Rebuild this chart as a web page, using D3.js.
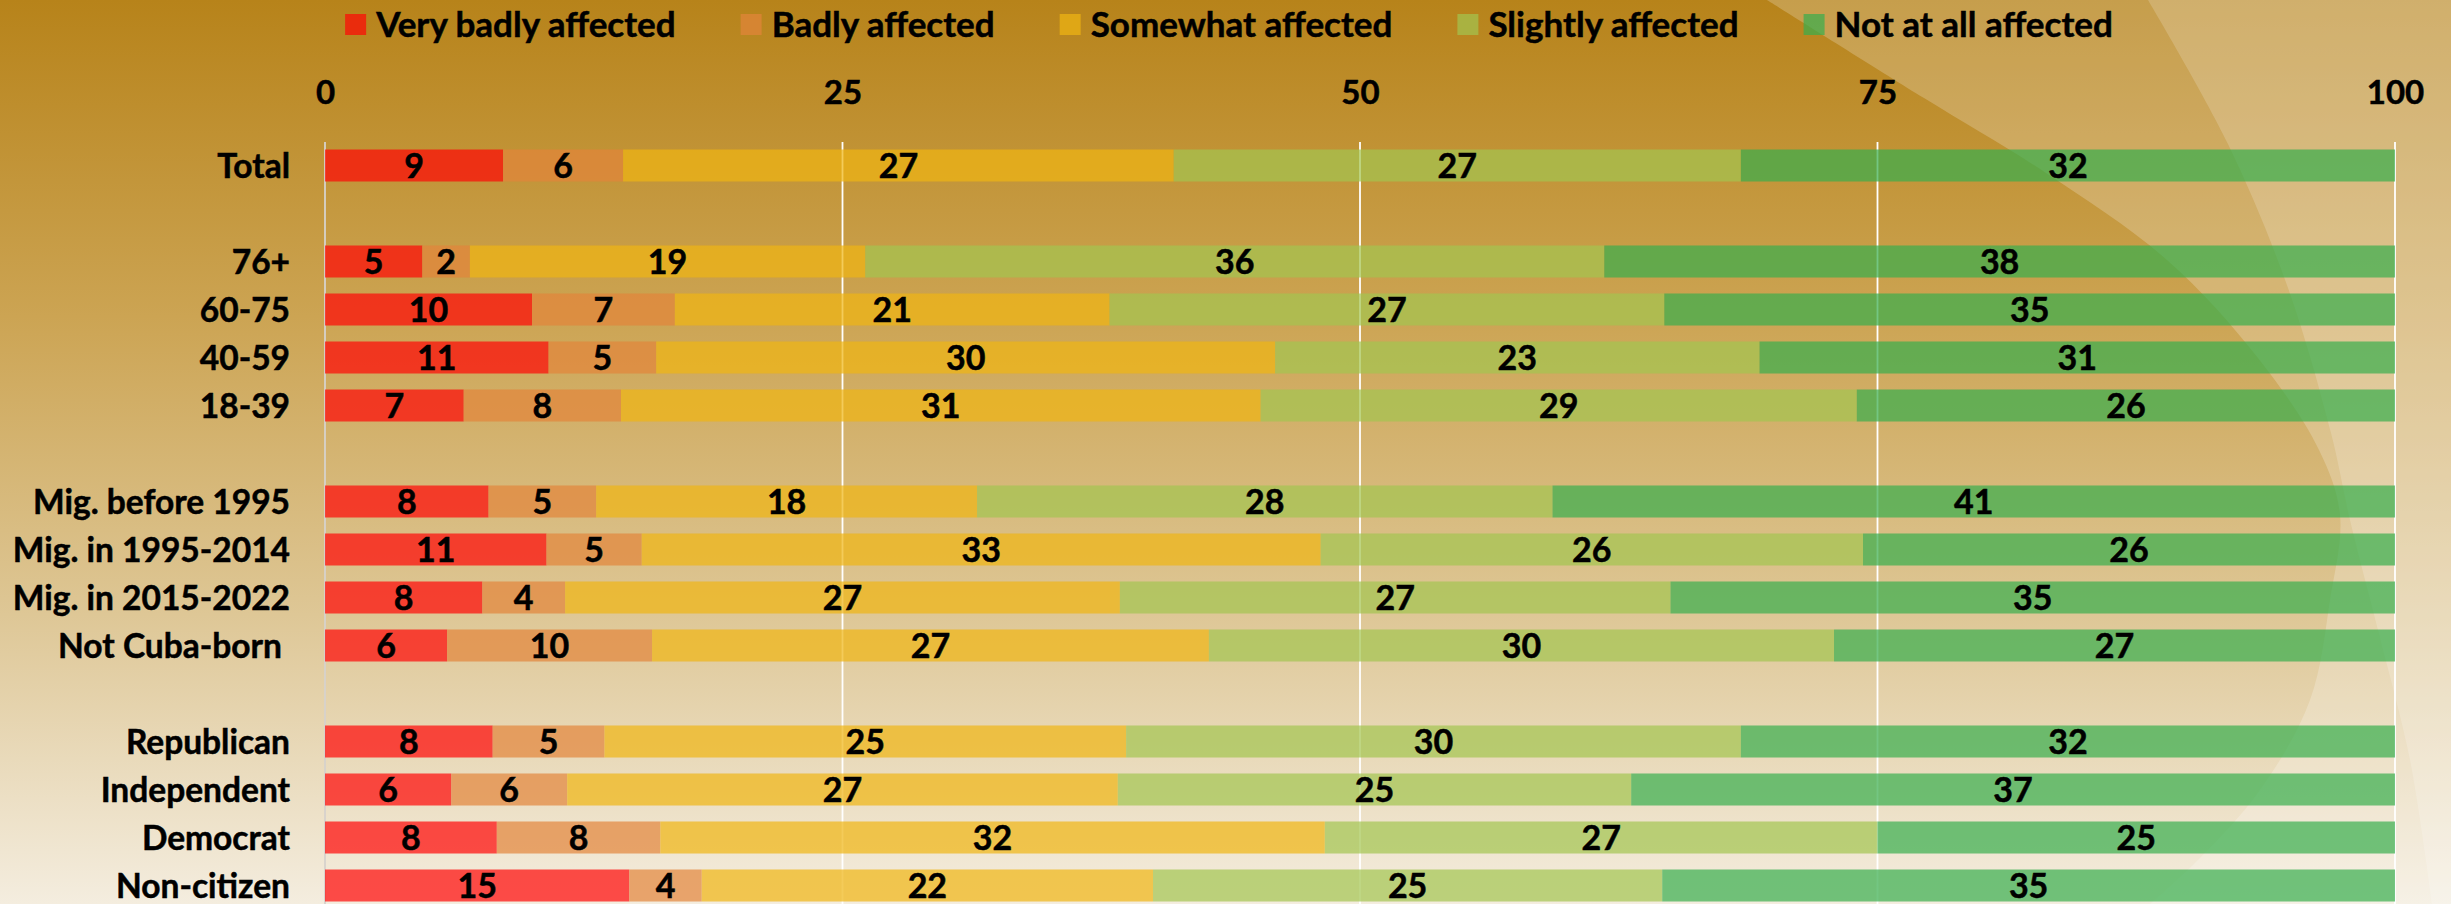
<!DOCTYPE html>
<html>
<head>
<meta charset="utf-8">
<script src="https://cdn.jsdelivr.net/npm/d3@7"></script>
<style>
  html, body { margin: 0; padding: 0; overflow: hidden; background: #fff; }
  svg { display: block; }
  text { font-family: Lato, "Open Sans", "Noto Sans", sans-serif; font-weight: 700; fill: #000;
         stroke: #000; stroke-width: 0.5px; }
</style>
</head>
<body>
<svg id="chart" width="2451" height="904"></svg>
<script>
// ---- data -------------------------------------------------------------
const categories = [
  "Total",
  "76+", "60-75", "40-59", "18-39",
  "Mig. before 1995", "Mig. in 1995-2014", "Mig. in 2015-2022", "Not Cuba-born ",
  "Republican", "Independent", "Democrat", "Non-citizen"
];
// group index of each category (an empty row separates groups)
const groups = [0, 1, 1, 1, 1, 2, 2, 2, 2, 3, 3, 3, 3];

const seriesNames = [
  "Very badly affected", "Badly affected", "Somewhat affected",
  "Slightly affected", "Not at all affected"
];

const veryBadly = [8.6, 4.7, 10.0, 10.8, 6.7, 7.9, 10.7, 7.6, 5.9, 8.1, 6.1, 8.3, 14.7];
const badly     = [5.8, 2.3,  6.9,  5.2, 7.6, 5.2,  4.6, 4.0, 9.9, 5.4, 5.6, 7.9,  3.5];
const somewhat  = [26.6, 19.1, 21.0, 29.9, 30.9, 18.4, 32.8, 26.8, 26.9, 25.2, 26.6, 32.1, 21.8];
const slightly  = [27.4, 35.7, 26.8, 23.4, 28.8, 27.8, 26.2, 26.6, 30.2, 29.7, 24.8, 26.7, 24.6];
const notAtAll  = [31.6, 38.2, 35.3, 30.7, 26.0, 40.7, 25.7, 35.0, 27.1, 31.6, 36.9, 25.0, 35.4];

const tickValues = [0, 25, 50, 75, 100];

// ---- styling ----------------------------------------------------------
const seriesColors = ["#FF0505", "#E3853A", "#EFB512", "#A2C450", "#37AE4D"];
const barOpacity = 0.7;
const W = 2451, H = 904;

const svg = d3.select("#chart");
const defs = svg.append("defs");

// background: vertical golden-to-cream gradient
const bg = defs.append("linearGradient")
  .attr("id", "bgGrad").attr("x1", 0).attr("y1", 0).attr("x2", 0).attr("y2", 1);
[[0, "#B7831A"], [0.35, "#CCA453"], [0.68, "#DEC796"], [1, "#F4EDDF"]]
  .forEach(([o, c]) => bg.append("stop").attr("offset", o).attr("stop-color", c));
svg.append("rect").attr("width", W).attr("height", H).attr("fill", "url(#bgGrad)");

// soft light swoosh shapes on the right side
const curve = d3.line().curve(d3.curveCatmullRom.alpha(0.5));
const edgeA = [[1767, 0], [1924, 98], [2046, 173], [2167, 260], [2258, 358], [2319, 450],
               [2340, 515], [2330, 600], [2310, 700], [2260, 790], [2200, 858], [2150, 904]];
const edgeB = [[2148, 0], [2228, 144], [2288, 288], [2331, 433], [2350, 520],
               [2379, 634], [2410, 760], [2432, 904]];
function sweep(points) {
  return curve(points) + `L${W},${H}L${W},0Z`;
}
svg.append("path").attr("d", sweep(edgeA)).attr("fill", "#fff").attr("fill-opacity", 0.22);
svg.append("path").attr("d", sweep(edgeB)).attr("fill", "#fff").attr("fill-opacity", 0.18);

// ---- scales -----------------------------------------------------------
const x = d3.scaleLinear().domain([0, 100]).range([325, 2395]);
const slots = d3.range(categories.length + d3.max(groups));
const y = d3.scaleBand().domain(slots).range([141.5, 909.5])
  .paddingInner(1 / 3).paddingOuter(1 / 6);
const slotOf = i => i + groups[i];

// ---- gridlines --------------------------------------------------------
svg.append("g").selectAll("line").data(tickValues).join("line")
  .attr("x1", d => x(d)).attr("x2", d => x(d))
  .attr("y1", 142).attr("y2", H)
  .attr("stroke", d => d === 0 ? "#D6D2CC" : "#FFFFFF")
  .attr("stroke-width", 1.8);

// ---- axis labels (top) ------------------------------------------------
const axis = d3.axisTop(x).tickValues(tickValues).tickSize(0).tickPadding(0);
const axisG = svg.append("g").attr("transform", "translate(0,92.5)").call(axis);
axisG.select(".domain").remove();
axisG.selectAll("text")
  .attr("y", 0).attr("dy", "0.36em")
  .style("font-size", "33px").style("font-family", "Lato, 'Open Sans', sans-serif")
  .style("font-weight", 700).attr("fill", "#000");

// ---- stacked bars -----------------------------------------------------
const seriesValues = [veryBadly, badly, somewhat, slightly, notAtAll];
const rows = categories.map((c, i) => {
  const r = { key: c, slot: slotOf(i) };
  seriesNames.forEach((s, k) => { r[s] = seriesValues[k][i]; });
  return r;
});
const stack = d3.stack().keys(seriesNames)(rows);
const fmt = d3.format(".0f");

const layer = svg.append("g").selectAll("g").data(stack).join("g")
  .attr("fill", (d, k) => seriesColors[k])
  .attr("fill-opacity", barOpacity);

layer.selectAll("rect").data(d => d).join("rect")
  .attr("x", d => x(d[0]))
  .attr("width", d => x(d[1]) - x(d[0]))
  .attr("y", d => y(d.data.slot))
  .attr("height", y.bandwidth());

const labels = svg.append("g");
stack.forEach(s => {
  labels.selectAll(null).data(s).join("text")
    .attr("x", d => x((d[0] + d[1]) / 2))
    .attr("y", d => y(d.data.slot) + y.bandwidth() / 2)
    .attr("dy", "0.36em")
    .attr("text-anchor", "middle")
    .style("font-size", "34px")
    .text(d => fmt(d[1] - d[0]));
});

// ---- category labels --------------------------------------------------
svg.append("g").selectAll("text").data(rows).join("text")
  .attr("x", 290)
  .attr("y", d => y(d.slot) + y.bandwidth() / 2)
  .attr("dy", "0.36em")
  .attr("text-anchor", "end")
  .style("font-size", "33.5px")
  .style("white-space", "pre")
  .text(d => d.key);

// ---- legend -----------------------------------------------------------
const legend = svg.append("g");
const sw = 21, swGap = 10, itemGap = 65;
let cursor = 0;
seriesNames.forEach((name, k) => {
  const g = legend.append("g");
  g.append("rect").attr("y", 14).attr("width", sw).attr("height", sw)
    .attr("fill", seriesColors[k]).attr("fill-opacity", barOpacity);
  const t = g.append("text").attr("x", sw + swGap).attr("y", 24.5).attr("dy", "0.36em")
    .style("font-size", "35px").text(name);
  const w = sw + swGap + t.node().getComputedTextLength();
  g.attr("transform", `translate(${cursor},0)`);
  cursor += w + itemGap;
});
const legendWidth = cursor - itemGap;
legend.attr("transform", `translate(${1229 - legendWidth / 2},0)`);
</script>
</body>
</html>
